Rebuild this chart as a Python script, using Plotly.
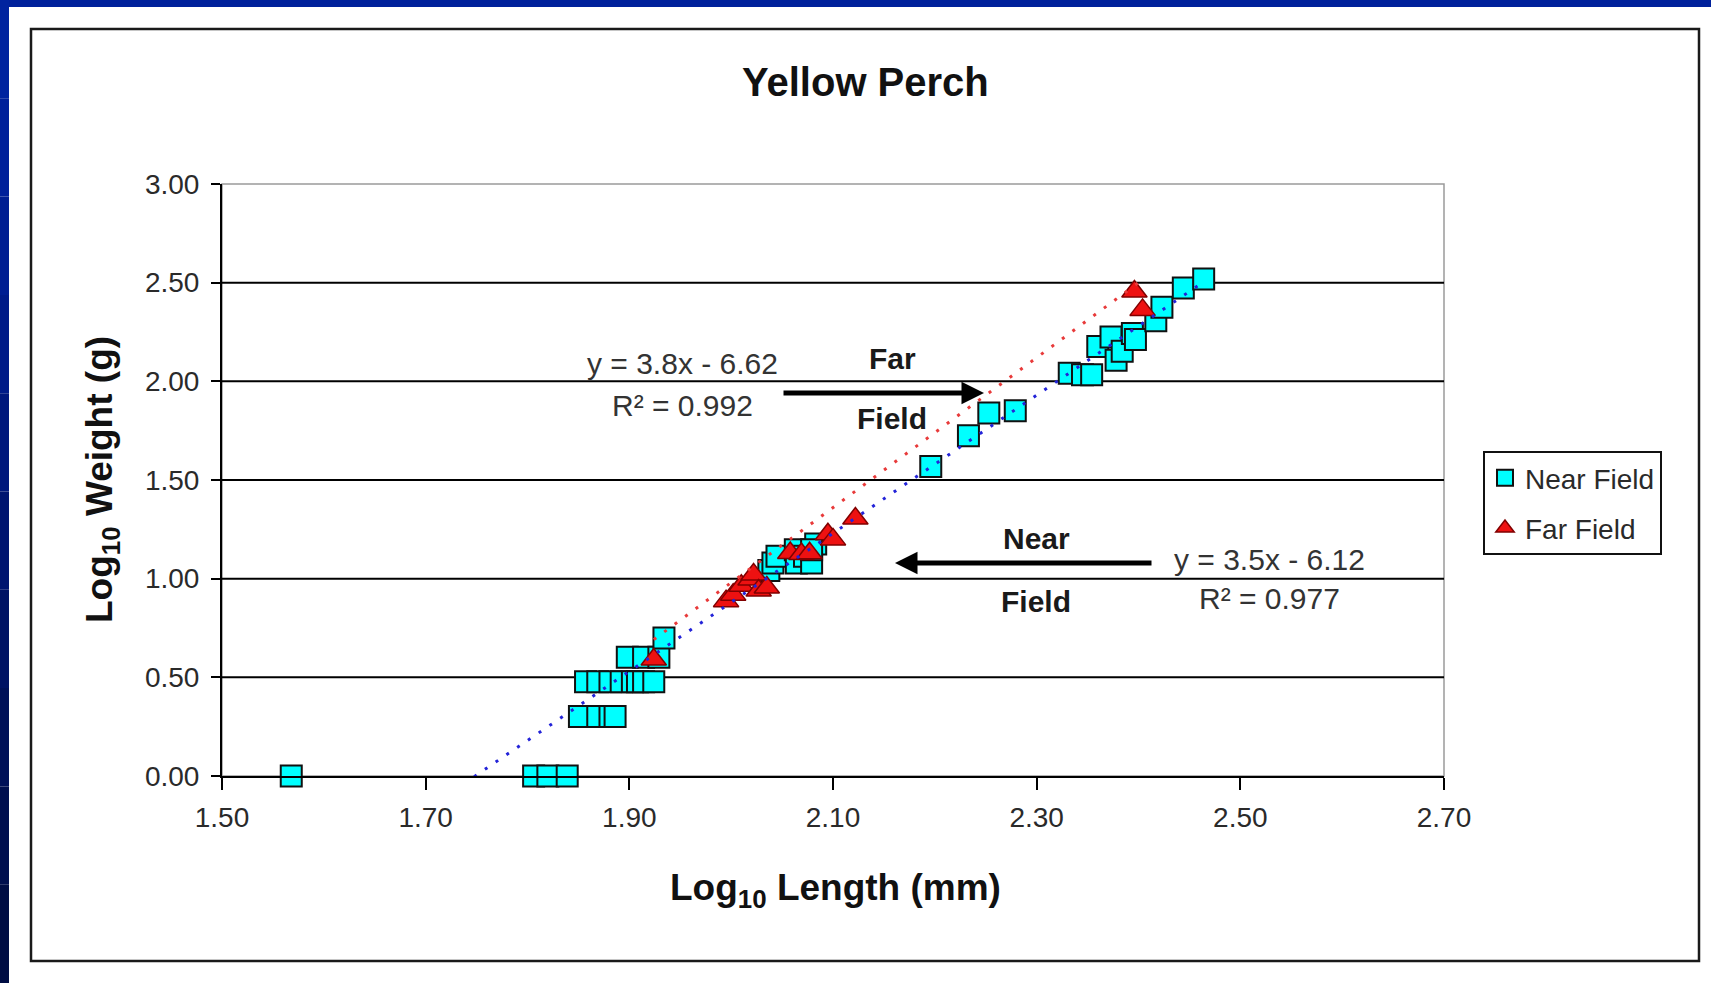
import plotly.graph_objects as go

# ---- data: log10 length (mm) vs log10 weight (g) ----
near_x = [1.568, 1.806, 1.820, 1.839,
          1.851, 1.869, 1.881, 1.886,
          1.857, 1.869, 1.881, 1.892, 1.903, 1.908, 1.914, 1.924,
          1.898, 1.914, 1.929,
          1.934,
          2.037, 2.041, 2.045, 2.063, 2.064, 2.072, 2.079, 2.083, 2.079,
          2.196, 2.233, 2.253, 2.279,
          2.332, 2.345, 2.354, 2.360, 2.373, 2.378, 2.384, 2.394, 2.397,
          2.417, 2.423, 2.444, 2.464]
near_y = [0.000, 0.000, 0.000, 0.000,
          0.301, 0.301, 0.301, 0.301,
          0.477, 0.477, 0.477, 0.477, 0.477, 0.477, 0.477, 0.477,
          0.602, 0.602, 0.602,
          0.699,
          1.041, 1.079, 1.114, 1.146, 1.079, 1.114, 1.079, 1.176, 1.146,
          1.568, 1.724, 1.839, 1.851,
          2.041, 2.033, 2.033, 2.176, 2.225, 2.107, 2.152, 2.243, 2.212,
          2.307, 2.375, 2.473, 2.519]

far_x = [1.924, 1.995, 2.002, 2.010, 2.019, 2.022, 2.027, 2.035,
         2.058, 2.069, 2.077, 2.095, 2.100, 2.122, 2.396, 2.404]
far_y = [0.590, 0.886, 0.919, 0.964, 0.996, 1.021, 0.940, 0.955,
         1.130, 1.125, 1.129, 1.225, 1.199, 1.305, 2.455, 2.362]

# linear fits as printed on the chart
near_fit = (3.5, -6.12, 0.977)
far_fit = (3.8, -6.62, 0.992)

x_ticks = [1.50, 1.70, 1.90, 2.10, 2.30, 2.50, 2.70]
y_ticks = [0.00, 0.50, 1.00, 1.50, 2.00, 2.50, 3.00]

# ---- page geometry (pixels) ----
W, H = 1711, 983
L, R, T, B = 222, 1444, 184, 776


def px(x):
    return (x - L) / (R - L)


def py(y):
    return (B - y) / (B - T)


FONT = "Liberation Sans, Arial, sans-serif"

fig = go.Figure()

fig.add_trace(go.Scatter(
    x=near_x, y=near_y, mode="markers", name="Near Field", legendgroup="near",
    marker=dict(symbol="square", size=21, color="#00FFFF",
                line=dict(color="#111111", width=2)),
    cliponaxis=False))

fig.add_trace(go.Scatter(
    x=far_x, y=far_y, mode="markers", name="Far Field", legendgroup="far",
    marker=dict(symbol="triangle-up", size=22, color="#EE1111",
                line=dict(color="#800000", width=1.5)),
    cliponaxis=False))

# trend lines across each series' length range
for (m, c, _), xs, col in [(near_fit, near_x, "#2323D8"), (far_fit, far_x, "#E83A3A")]:
    x0, x1 = min(xs), max(xs)
    fig.add_trace(go.Scatter(
        x=[x0, x1], y=[m * x0 + c, m * x1 + c], mode="lines",
        line=dict(color=col, width=3, dash="3px,10px"),
        showlegend=False, hoverinfo="skip"))

shapes = []
# slide frame: blue bands on top and left edge
shapes.append(dict(type="rect", xref="paper", yref="paper",
                   x0=px(0), x1=px(W), y0=py(7), y1=py(0),
                   fillcolor="#00219B", line=dict(width=0), layer="below"))
band_cols = ["#00239F", "#00209A", "#001E92", "#001B88", "#00187C",
             "#001570", "#001364", "#001158", "#000F4E", "#000D44"]
n = len(band_cols)
for i, col in enumerate(band_cols):
    shapes.append(dict(type="rect", xref="paper", yref="paper",
                       x0=px(0), x1=px(9),
                       y0=py(H * (i + 1) / n), y1=py(H * i / n),
                       fillcolor=col, line=dict(width=0), layer="below"))
# chart border
shapes.append(dict(type="rect", xref="paper", yref="paper",
                   x0=px(31), x1=px(1699), y0=py(961), y1=py(29),
                   line=dict(color="#1A1A1A", width=2.5), layer="below"))
# plot area border
shapes.append(dict(type="rect", xref="paper", yref="paper",
                   x0=0, x1=1, y0=0, y1=1,
                   line=dict(color="#9A9A9A", width=1.5), layer="below"))
# horizontal gridlines
for v in y_ticks[1:-1]:
    shapes.append(dict(type="line", xref="paper", yref="y",
                       x0=0, x1=1, y0=v, y1=v,
                       line=dict(color="#000000", width=2), layer="below"))


def label(text, x, y, size, bold=False, color="#333333", angle=0):
    return dict(text=text, x=px(x), y=py(y), xref="paper", yref="paper",
                xanchor="center", yanchor="middle", showarrow=False,
                textangle=angle,
                font=dict(family=FONT, size=size, color=color,
                          weight="bold" if bold else "normal"))


def arrow(x_head, x_tail, y):
    return dict(text="", x=px(x_head), y=py(y), xref="paper", yref="paper",
                showarrow=True, ax=x_tail - x_head, ay=0, arrowhead=2,
                arrowsize=0.9, arrowwidth=5, arrowcolor="#000000")


annotations = [
    label("Yellow Perch", 865, 82, 40, True, "#111111"),
    label("Log<sub>10</sub> Length (mm)", 835, 890, 37, True, "#111111"),
    label("Log<sub>10</sub> Weight (g)", 102, 480, 37, True, "#111111", -90),
    # far field fit
    label("y = %gx - %.2f" % (far_fit[0], -far_fit[1]), 682, 363, 30),
    label("R² = %.3f" % far_fit[2], 682, 405, 30),
    label("Far", 892, 358, 30, True, "#1A1A1A"),
    label("Field", 892, 418, 30, True, "#1A1A1A"),
    arrow(984, 782, 393),
    # near field fit
    label("y = %gx - %.2f" % (near_fit[0], -near_fit[1]), 1269, 559, 30),
    label("R² = %.3f" % near_fit[2], 1269, 598, 30),
    label("Near", 1036, 538, 30, True, "#1A1A1A"),
    label("Field", 1036, 601, 30, True, "#1A1A1A"),
    arrow(895, 1153, 563),
]

fig.update_layout(
    width=W, height=H,
    margin=dict(l=L, r=W - R, t=T, b=H - B, autoexpand=False),
    paper_bgcolor="#FFFFFF", plot_bgcolor="#FFFFFF",
    font=dict(family=FONT, size=28, color="#2A2A2A"),
    showlegend=True,
    legend=dict(x=px(1483), y=py(451), xanchor="left", yanchor="top",
                bgcolor="#FFFFFF", bordercolor="#111111", borderwidth=2,
                font=dict(family=FONT, size=28, color="#2A2A2A"),
                itemsizing="trace", tracegroupgap=11),
    shapes=shapes,
    annotations=annotations,
    xaxis=dict(range=[x_ticks[0], x_ticks[-1]], tickvals=x_ticks,
               ticktext=["%.2f" % v for v in x_ticks],
               showgrid=False, zeroline=False,
               showline=True, linecolor="#000000", linewidth=2,
               ticks="outside", ticklen=12, tickwidth=2, tickcolor="#000000",
               ticklabelstandoff=3),
    yaxis=dict(range=[y_ticks[0], y_ticks[-1]], tickvals=y_ticks,
               ticktext=["%.2f" % v for v in y_ticks],
               showgrid=False, zeroline=False,
               showline=True, linecolor="#000000", linewidth=2,
               ticks="outside", ticklen=9, tickwidth=2, tickcolor="#000000",
               ticklabelstandoff=6),
)

fig.write_html("out.html")
